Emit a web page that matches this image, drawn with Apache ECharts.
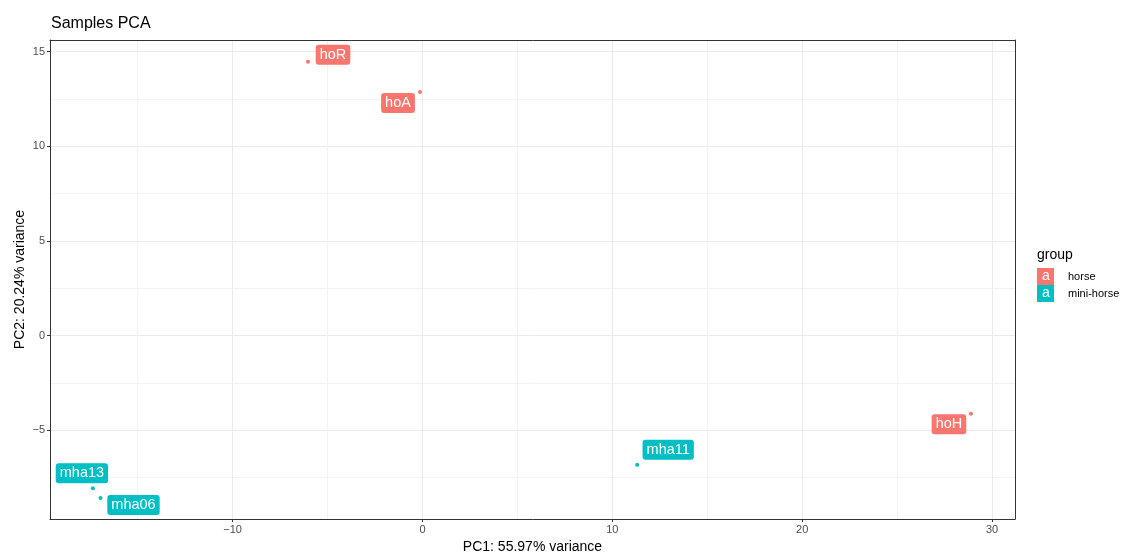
<!DOCTYPE html>
<html>
<head>
<meta charset="utf-8">
<script src="https://cdn.jsdelivr.net/npm/echarts@6/dist/echarts.min.js"></script>
<style>
html,body{margin:0;padding:0;background:#fff;}
#chart{width:1132px;height:553px;}
</style>
</head>
<body>
<div id="chart"></div>
<script>
// ---- data ----
var sampleNames = ['hoA', 'hoH', 'hoR', 'mha06', 'mha11', 'mha13'];
var sampleGroup = ['horse', 'horse', 'horse', 'mini-horse', 'mini-horse', 'mini-horse'];
var pc1Values = [-0.13, 28.89, -6.03, -16.96, 11.31, -17.36];
var pc2Values = [12.87, -4.12, 14.46, -8.57, -6.81, -8.05];
var groupNames = ['horse', 'mini-horse'];
var axisRangeX = [-19.62, 31.21];
var axisRangeY = [-9.68, 15.61];

// ---- style (label nudges, like ggrepel placement) ----
var labelNudge = {
  hoA: [-22, 11], hoH: [-22, 10.5], hoR: [25, -7],
  mha06: [33, 7], mha11: [31, -15], mha13: [-11, -15]
};
var groupColors = {'horse': '#F8766D', 'mini-horse': '#00BFC4'};
var FONT = 'Liberation Sans, Arial, sans-serif';

var series = groupNames.map(function (g) {
  var pts = [];
  sampleNames.forEach(function (n, i) {
    if (sampleGroup[i] === g) {
      pts.push({
        name: n,
        value: [pc1Values[i], pc2Values[i]],
        label: {offset: labelNudge[n]}
      });
    }
  });
  return {
    name: g,
    type: 'scatter',
    xAxisIndex: 0,
    yAxisIndex: 0,
    symbol: 'circle',
    symbolSize: 4,
    itemStyle: {color: groupColors[g], opacity: 1},
    data: pts,
    label: {
      show: true,
      position: 'inside',
      formatter: '{b}',
      color: '#ffffff',
      fontFamily: FONT,
      fontSize: 14.5,
      backgroundColor: groupColors[g],
      borderRadius: 3,
      padding: [3, 4, 2, 4],
      lineHeight: 15
    },
    emphasis: {disabled: true},
    z: 3
  };
});

function fmt(v) { return v < 0 ? '\u2212' + Math.abs(v) : String(v); }

function frameAxis(pos, range) {
  return {
    type: 'value', position: pos, min: range[0], max: range[1],
    axisLine: {show: true, onZero: false, lineStyle: {color: '#333333', width: 1}},
    axisTick: {show: false}, axisLabel: {show: false}, splitLine: {show: false}, z: 5
  };
}

var chart = echarts.init(document.getElementById('chart'), null, {renderer: 'canvas'});
chart.setOption({
  animation: false,
  backgroundColor: '#ffffff',
  title: {
    text: 'Samples PCA',
    left: 46, top: 11,
    textStyle: {fontFamily: FONT, fontSize: 16, fontWeight: 'normal', color: '#000'}
  },
  grid: {left: 50, right: 117, top: 40, bottom: 34, outerBoundsMode: 'none', containLabel: false,
         show: false},
  xAxis: [{
    type: 'value',
    position: 'bottom',
    min: axisRangeX[0], max: axisRangeX[1],
    splitNumber: 5,
    name: 'PC1: 55.97% variance',
    nameLocation: 'middle', nameGap: 21, nameMoveOverlap: false,
    nameTextStyle: {fontFamily: FONT, fontSize: 14, color: '#000'},
    axisLine: {show: true, onZero: false, lineStyle: {color: '#333333', width: 1}},
    axisTick: {show: true, inside: false, length: 3, lineStyle: {color: '#333333'}},
    axisLabel: {showMinLabel: false, showMaxLabel: false, margin: 5, color: '#4D4D4D', fontSize: 11, fontFamily: FONT, formatter: fmt},
    splitLine: {show: true, lineStyle: {color: '#EBEBEB', width: 1}},
    minorTick: {show: false, splitNumber: 2},
    minorSplitLine: {show: true, lineStyle: {color: '#F3F3F3', width: 1}}
  }, frameAxis('top', axisRangeX)],
  yAxis: [{
    type: 'value',
    position: 'left',
    min: axisRangeY[0], max: axisRangeY[1],
    splitNumber: 5,
    name: 'PC2: 20.24% variance',
    nameLocation: 'middle', nameGap: 23, nameMoveOverlap: false,
    nameTextStyle: {fontFamily: FONT, fontSize: 14, color: '#000'},
    axisLine: {show: true, onZero: false, lineStyle: {color: '#333333', width: 1}},
    axisTick: {show: true, inside: false, length: 3, lineStyle: {color: '#333333'}},
    axisLabel: {showMinLabel: false, showMaxLabel: false, margin: 5, color: '#4D4D4D', fontSize: 11, fontFamily: FONT, formatter: fmt},
    splitLine: {show: true, lineStyle: {color: '#EBEBEB', width: 1}},
    minorTick: {show: false, splitNumber: 2},
    minorSplitLine: {show: true, lineStyle: {color: '#F3F3F3', width: 1}}
  }, frameAxis('right', axisRangeY)],
  legend: {
    orient: 'vertical',
    left: 1037, top: 268,
    itemGap: 0,
    itemWidth: 17, itemHeight: 17,
    padding: 0,
    icon: 'rect',
    selectedMode: false,
    data: groupNames,
    itemStyle: {opacity: 1},
    textStyle: {fontFamily: FONT, fontSize: 11, color: '#000', padding: [0, 0, 0, 9]}
  },
  graphic: [
    {type: 'text', left: 1037, top: 248, style: {text: 'group', fontFamily: FONT, fontSize: 14, fill: '#000'}},
    {type: 'text', left: 1042, top: 269, style: {text: 'a', fontFamily: FONT, fontSize: 14, fill: '#fff'}, z: 100},
    {type: 'text', left: 1042, top: 286, style: {text: 'a', fontFamily: FONT, fontSize: 14, fill: '#fff'}, z: 100}
  ],
  series: series
});
</script>
</body>
</html>
